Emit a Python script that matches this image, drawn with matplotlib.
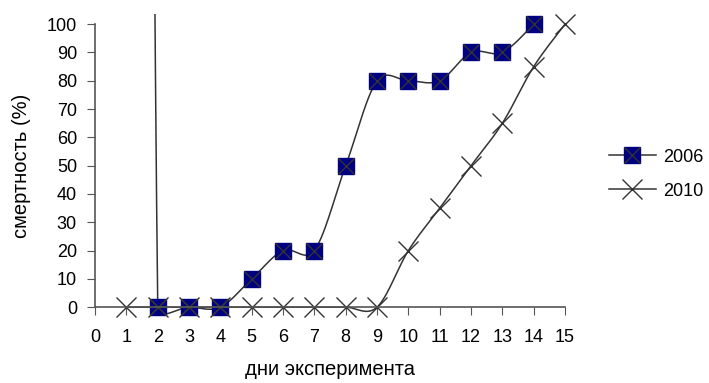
import matplotlib
import numpy as np

matplotlib.use("Agg")
import matplotlib.pyplot as plt  # noqa: E402
from matplotlib.patches import Rectangle  # noqa: E402
from matplotlib.lines import Line2D  # noqa: E402

plt.rcParams["font.family"] = ["Liberation Sans", "DejaVu Sans"]

# --- data ---
days_2006 = [1, 2, 3, 4, 5, 6, 7, 8, 9, 10, 11, 12, 13, 14]
mort_2006 = [2000, 0, 0, 0, 10, 20, 20, 50, 80, 80, 80, 90, 90, 100]  # day 1 is an off-scale value
days_2010 = [1, 2, 3, 4, 5, 6, 7, 8, 9, 10, 11, 12, 13, 14, 15]
mort_2010 = [0, 0, 0, 0, 0, 0, 0, 0, 0, 20, 35, 50, 65, 85, 100]
x_ticks = list(range(0, 16))
y_ticks = list(range(0, 101, 10))

LINE = "#333333"
NAVY = "#000080"


def smooth(xs, ys, sx, sy, n=30):
    """Excel-like smoothed line: cubic Bezier through points, in pixel-ish space."""
    p = np.column_stack([np.asarray(xs, float) * sx, np.asarray(ys, float) * sy])
    m = len(p)
    out = [p[0]]
    for i in range(m - 1):
        a, b = p[i], p[i + 1]
        seg = np.linalg.norm(b - a)
        va = (p[min(i + 1, m - 1)] - p[max(i - 1, 0)]) / 6
        vb = (p[min(i + 2, m - 1)] - p[i]) / 6
        for v in (va, vb):
            L = np.linalg.norm(v)
            if L > 0.5 * seg:
                v *= 0.5 * seg / L
        c1, c2 = a + va, b - vb
        t = np.linspace(0, 1, n)[1:, None]
        pts = ((1 - t) ** 3) * a + 3 * ((1 - t) ** 2) * t * c1 + 3 * (1 - t) * t ** 2 * c2 + t ** 3 * b
        out.extend(pts)
    out = np.array(out)
    return out[:, 0] / sx, out[:, 1] / sy


fig = plt.figure(figsize=(7.09, 3.83), dpi=100)
ax = fig.add_axes([0.134, 0.198, 0.663, 0.739])
ax.set_xlim(0, 15)
ax.set_ylim(0, 100)

sx, sy = 31.3, 2.83
clip = Rectangle((-0.05, -0.08), 1.1, 1.08 + 0.035, transform=ax.transAxes,
                 facecolor="none", edgecolor="none")
ax.add_patch(clip)

xs, ys = smooth(days_2006, mort_2006, sx, sy)
l1, = ax.plot(xs, ys, color=LINE, lw=1.1, clip_on=True)
l1.set_clip_path(clip)
ax.plot(days_2006[1:], mort_2006[1:], ls="none", marker="s", ms=12,
        mfc=NAVY, mec=NAVY, clip_on=False)
ax.plot(days_2006[1:], mort_2006[1:], ls="none", marker="x", ms=11,
        mec=LINE, mew=1.0, clip_on=False)

xs, ys = smooth(days_2010, mort_2010, sx, sy)
l2, = ax.plot(xs, ys, color=LINE, lw=1.1)
l2.set_clip_path(clip)
ax.plot(days_2010, mort_2010, ls="none", marker="x", ms=14,
        mec=LINE, mew=1.0, clip_on=False)

for s in ("top", "right"):
    ax.spines[s].set_visible(False)
for s in ("left", "bottom"):
    ax.spines[s].set_color("#555555")
    ax.spines[s].set_linewidth(1.2)
ax.set_xticks(x_ticks)
ax.set_yticks(y_ticks)
ax.tick_params(axis="x", length=6, color="#555555", labelsize=13, pad=10)
ax.tick_params(axis="y", length=6, color="#555555", labelsize=13, pad=7)
ax.set_xlabel("дни эксперимента", fontsize=14.5, labelpad=10)
ax.set_ylabel("смертность (%)", fontsize=14.5, labelpad=11)

h1 = Line2D([], [], color=LINE, lw=1.1, marker="s", ms=12, mfc=NAVY, mec=NAVY)
h1x = Line2D([], [], color=LINE, lw=0, marker="x", ms=11, mec=LINE)
h2 = Line2D([], [], color=LINE, lw=1.1, marker="x", ms=14, mec=LINE)
ax.legend([(h1, h1x), h2], ["2006", "2010"], loc="center left",
          bbox_to_anchor=(1.078, 0.47), frameon=False, fontsize=13,
          handlelength=2.6, labelspacing=0.95, handletextpad=0.4,
          borderaxespad=0.0)

fig.savefig("out.png", dpi=100)
